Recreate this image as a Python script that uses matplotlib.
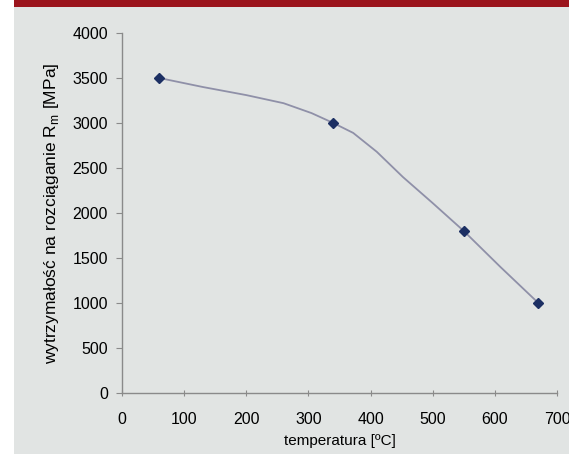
import matplotlib.pyplot as plt
from matplotlib.patches import Rectangle

temp_points = [60, 340, 550, 670]
rm_points = [3500, 3000, 1800, 1000]

temp_line = [60, 130, 200, 260, 305, 340, 372, 410, 452, 500, 550, 609, 670]
rm_line = [3500, 3400, 3310, 3220, 3110, 3000, 2890, 2680, 2400, 2110, 1800, 1400, 1000]

x_ticks = [0, 100, 200, 300, 400, 500, 600, 700]
y_ticks = [0, 500, 1000, 1500, 2000, 2500, 3000, 3500, 4000]

plt.rcParams['font.family'] = ['Liberation Sans', 'DejaVu Sans']

bg = '#e1e4e3'
fig = plt.figure(figsize=(5.69, 4.54), dpi=100, facecolor='white')

# tlo panelu i czerwony pasek u gory
fig.patches.append(Rectangle((14 / 569, 0), 1 - 14 / 569, 1 - 7 / 454, transform=fig.transFigure,
                             facecolor=bg, edgecolor='none', zorder=-5))
fig.patches.append(Rectangle((14 / 569, 1 - 7 / 454), 1 - 14 / 569, 7 / 454, transform=fig.transFigure,
                             facecolor='#9b141c', edgecolor='none', zorder=-5))

ax = fig.add_axes([122 / 569, 1 - 393 / 454, 435 / 569, 360 / 454])
ax.set_facecolor('none')
ax.set_zorder(2)

ax.plot(temp_line, rm_line, color='#8f90a8', lw=1.3, zorder=2)
ax.plot(temp_points, rm_points, linestyle='none', marker='D', markersize=5.5,
        color='#1c2f63', zorder=3)

ax.set_xlim(0, 700)
ax.set_ylim(0, 4000)
ax.set_xticks(x_ticks)
ax.set_yticks(y_ticks)

for s in ['top', 'right']:
    ax.spines[s].set_visible(False)
for s in ['left', 'bottom']:
    ax.spines[s].set_color('#8a8a8a')
    ax.spines[s].set_linewidth(1.0)

ax.tick_params(axis='y', direction='out', length=4, color='#8a8a8a', labelsize=11.5, pad=6)
ax.tick_params(axis='x', direction='inout', length=5, color='#8a8a8a', labelsize=11.5, pad=11)

ax.set_xlabel('temperatura [ºC]', fontsize=11, labelpad=5)
ax.set_ylabel('wytrzymałość na rozciąganie R$_\\mathregular{m}$ [MPa]', fontsize=12.5, labelpad=8)

fig.savefig('out.png', dpi=100, facecolor='white')
